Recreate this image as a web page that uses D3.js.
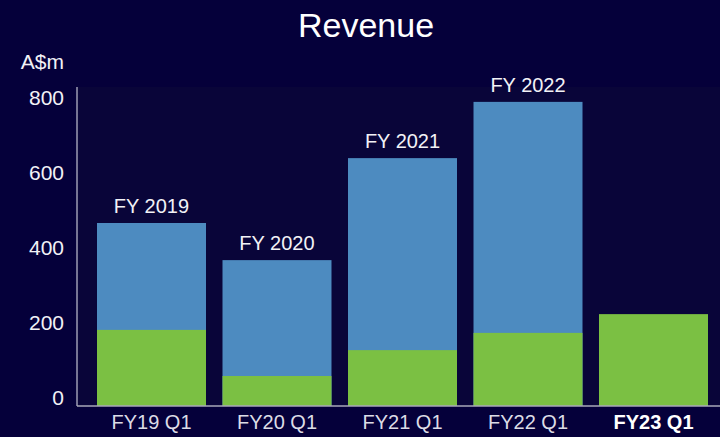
<!DOCTYPE html>
<html>
<head>
<meta charset="utf-8">
<script src="https://cdn.jsdelivr.net/npm/d3@7"></script>
<style>
  body { margin: 0; background: #05003a; }
  text { font-family: "Liberation Sans", Arial, sans-serif; }
</style>
</head>
<body>
<div id="chart"></div>
<script>
// quarter labels and full-year labels
var quarters = ["FY19 Q1", "FY20 Q1", "FY21 Q1", "FY22 Q1", "FY23 Q1"];
var years = ["FY 2019", "FY 2020", "FY 2021", "FY 2022", null];

// A$m
var fullYear = [488, 389, 661, 811, null];
var q1 = [203, 80, 149, 195, 245];
var yTicks = [0, 200, 400, 600, 800];

var width = 720, height = 437;

var svg = d3.select("#chart").append("svg")
  .attr("width", width)
  .attr("height", height);

svg.append("rect")
  .attr("width", width).attr("height", height)
  .attr("fill", "#05003a");

var x = d3.scaleBand()
  .domain(quarters)
  .range([88.75, 716.25])
  .paddingInner(0.1315)
  .paddingOuter(0.0657);

var y = d3.scaleLinear()
  .domain([0, 800])
  .range([406, 106]);

// faint plot area
svg.append("rect")
  .attr("x", 77).attr("y", 87)
  .attr("width", width - 77).attr("height", 406 - 87)
  .attr("fill", "#090539");

// full year bars
svg.selectAll(".fy")
  .data(quarters.filter(function(d, i) { return fullYear[i] != null; }))
  .enter()
  .append("rect")
  .attr("class", "fy")
  .attr("x", function(d) { return x(d); })
  .attr("width", x.bandwidth())
  .attr("y", function(d) { return y(fullYear[quarters.indexOf(d)]); })
  .attr("height", function(d) { return y(0) - y(fullYear[quarters.indexOf(d)]); })
  .attr("fill", "#4d8bc0");

// Q1 bars
svg.selectAll(".q1")
  .data(quarters)
  .enter()
  .append("rect")
  .attr("class", "q1")
  .attr("x", function(d) { return x(d); })
  .attr("width", x.bandwidth())
  .attr("y", function(d, i) { return y(q1[i]); })
  .attr("height", function(d, i) { return y(0) - y(q1[i]); })
  .attr("fill", "#7bc043");

// year labels over the bars
svg.selectAll(".yl")
  .data(quarters.filter(function(d, i) { return years[i] != null; }))
  .enter()
  .append("text")
  .attr("x", function(d) { return x(d) + x.bandwidth() / 2; })
  .attr("y", function(d) { return y(fullYear[quarters.indexOf(d)]) - 10; })
  .attr("text-anchor", "middle")
  .attr("font-size", "20px")
  .attr("fill", "#f2f2f6")
  .text(function(d) { return years[quarters.indexOf(d)]; });

// y axis
var yAxis = svg.append("g")
  .attr("transform", "translate(77,0)")
  .call(d3.axisLeft(y).tickValues(yTicks).tickSize(0).tickPadding(13));
yAxis.select(".domain").remove();
yAxis.selectAll("text")
  .attr("dy", "-0.05em")
  .attr("font-size", "21px")
  .attr("font-family", "Liberation Sans, Arial, sans-serif")
  .attr("fill", "#f2f2f6");

svg.append("line")
  .attr("x1", 77).attr("x2", 77)
  .attr("y1", 87).attr("y2", 406)
  .attr("stroke", "#e8e8f0").attr("stroke-width", 1);

// x axis
var xAxis = svg.append("g")
  .attr("transform", "translate(0,406)")
  .call(d3.axisBottom(x).tickSize(0).tickPadding(9));
xAxis.select(".domain").remove();
xAxis.selectAll("text")
  .attr("font-size", "20px")
  .attr("font-family", "Liberation Sans, Arial, sans-serif")
  .attr("font-weight", function(d) { return d === "FY23 Q1" ? "bold" : "normal"; })
  .attr("fill", function(d) { return d === "FY23 Q1" ? "#ffffff" : "#dcdce6"; });

svg.append("line")
  .attr("x1", 77).attr("x2", width)
  .attr("y1", 406).attr("y2", 406)
  .attr("stroke", "#a8a8b8").attr("stroke-width", 1.5);

// unit label
svg.append("text")
  .attr("x", 64).attr("y", 69)
  .attr("text-anchor", "end")
  .attr("font-size", "21px")
  .attr("fill", "#f2f2f6")
  .text("A$m");

// title
svg.append("text")
  .attr("x", 366).attr("y", 37)
  .attr("text-anchor", "middle")
  .attr("font-size", "34px")
  .attr("font-family", "Inter, sans-serif")
  .attr("font-weight", 300)
  .attr("fill", "#ffffff")
  .text("Revenue");
</script>
</body>
</html>
